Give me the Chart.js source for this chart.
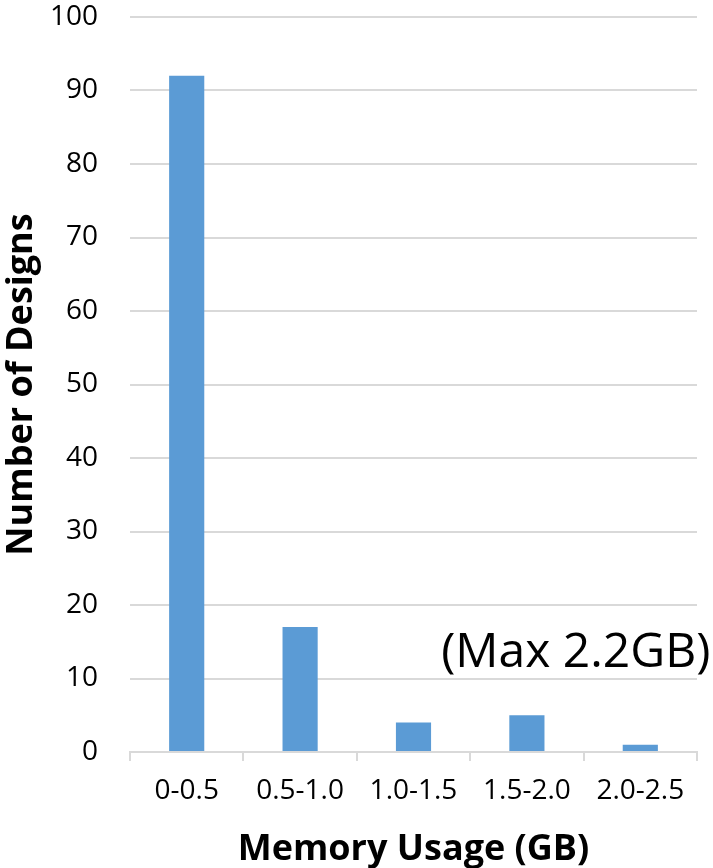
<!DOCTYPE html>
<html>
<head>
<meta charset="utf-8">
<script src="https://cdn.jsdelivr.net/npm/chart.js@4/dist/chart.umd.min.js"></script>
<style>
  html, body { margin: 0; padding: 0; background: #ffffff; }
  #wrap { width: 713px; height: 868px; position: relative; }
</style>
</head>
<body>
<div id="wrap"><canvas id="c" width="713" height="868"></canvas></div>
<script>
const categories = ["0-0.5", "0.5-1.0", "1.0-1.5", "1.5-2.0", "2.0-2.5"];
const designCounts = [92, 17, 4, 5, 1];
const yTicks = [0, 10, 20, 30, 40, 50, 60, 70, 80, 90, 100];
const xTitle = "Memory Usage (GB)";
const yTitle = "Number of Designs";
const annotationText = "(Max 2.2GB)";

const FONT = "'Open Sans', 'DejaVu Sans', sans-serif";

const annotationPlugin = {
  id: 'maxNote',
  afterDraw(chart) {
    const ctx = chart.ctx;
    const x = chart.scales.x, y = chart.scales.y;
    ctx.save();
    ctx.font = "48px " + FONT;
    ctx.fillStyle = "#000000";
    ctx.textAlign = "right";
    ctx.textBaseline = "middle";
    ctx.fillText(annotationText, x.getPixelForValue(4) + 70, y.getPixelForValue(13.4));
    ctx.restore();
  }
};

new Chart(document.getElementById('c'), {
  type: 'bar',
  data: {
    labels: categories,
    datasets: [{
      data: designCounts,
      backgroundColor: '#5B9BD5',
      borderWidth: 0,
      categoryPercentage: 1.0,
      barPercentage: 0.31
    }]
  },
  options: {
    responsive: false,
    animation: false,
    devicePixelRatio: 1,
    layout: { padding: { top: 17, right: 16, left: 0, bottom: 0 } },
    plugins: { legend: { display: false }, tooltip: { enabled: false } },
    scales: {
      x: {
        grid: { display: true, drawOnChartArea: false, drawTicks: true, tickLength: 9, color: '#D9D9D9', lineWidth: 2, offset: true },
        border: { display: true, color: '#D9D9D9', width: 2 },
        ticks: { color: '#000000', font: { family: FONT, size: 28 }, padding: 13, maxRotation: 0 },
        title: { display: true, text: xTitle, color: '#000000', font: { family: FONT, size: 36, weight: 'bold' }, padding: { top: 0, bottom: -3 } },
        afterFit(scale) { scale.height = 868 - 752; scale.paddingLeft = 0; scale.paddingRight = 0; }
      },
      y: {
        min: 0, max: 100,
        afterBuildTicks(scale) { scale.ticks = yTicks.map(v => ({ value: v })); },
        grid: { color: '#D9D9D9', lineWidth: 2, drawTicks: false },
        border: { display: false },
        ticks: { color: '#000000', font: { family: FONT, size: 28 }, padding: 32 },
        title: { display: true, text: yTitle, color: '#000000', font: { family: FONT, size: 36, weight: 'bold' }, padding: { top: 0, bottom: 0 } },
        afterFit(scale) { scale.width = 130; scale.paddingTop = 0; scale.paddingBottom = 0; }
      }
    }
  },
  plugins: [annotationPlugin]
});
</script>
</body>
</html>
